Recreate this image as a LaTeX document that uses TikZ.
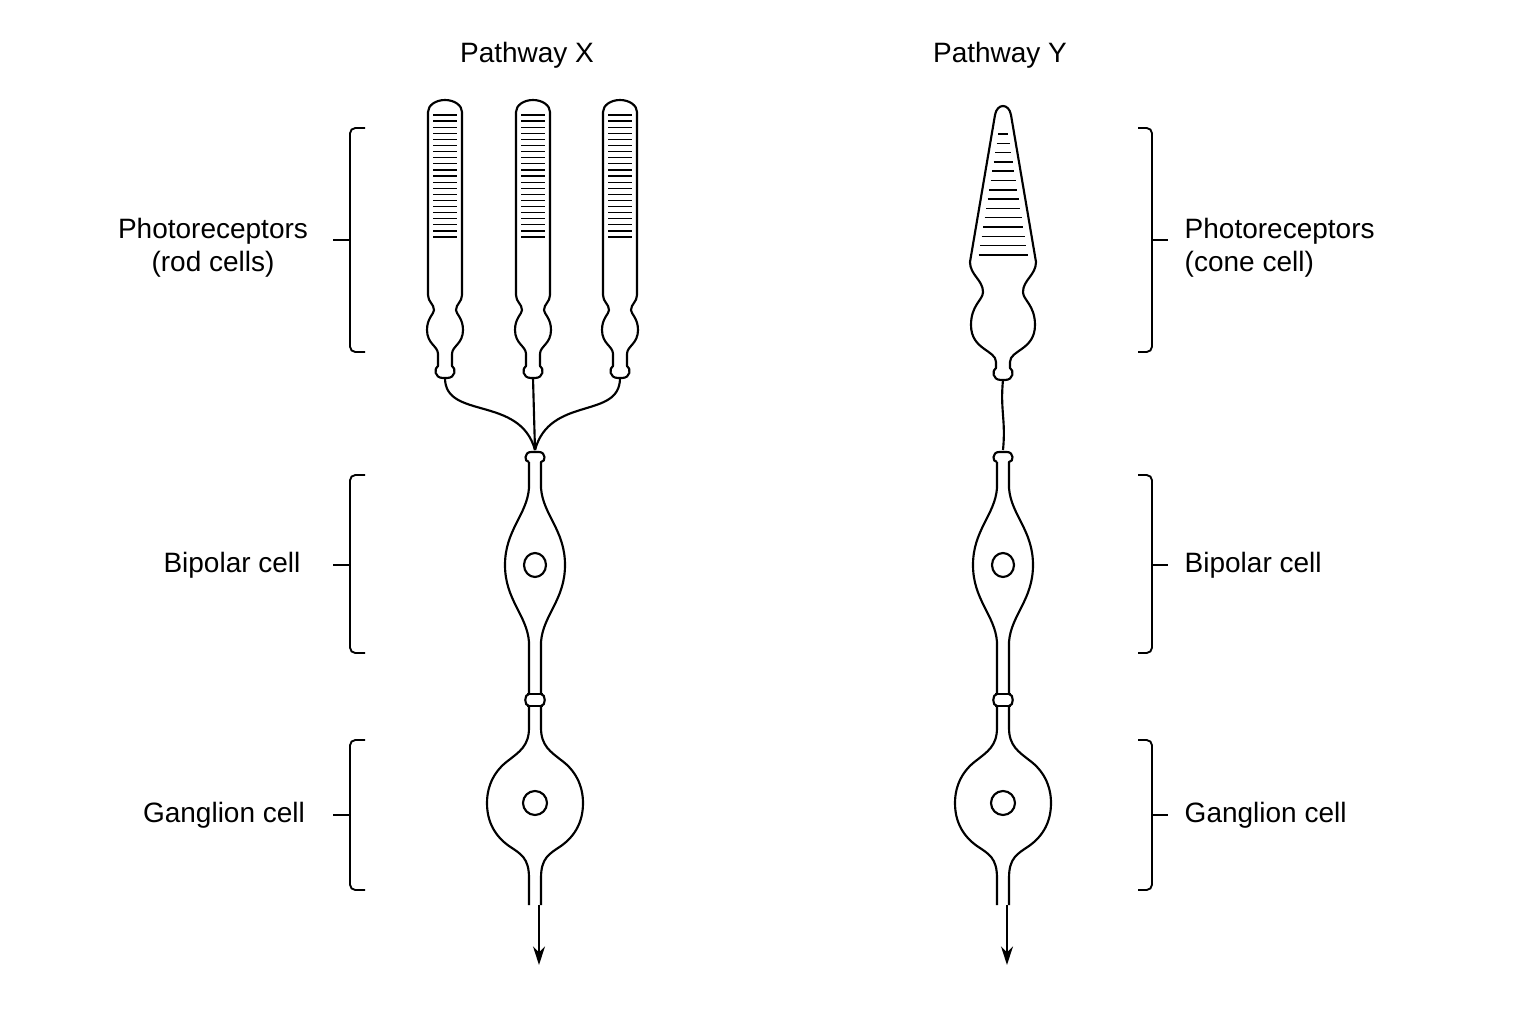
\documentclass[tikz,border=0pt]{standalone}
\usepackage{fontspec}
\setmainfont{Liberation Sans}
\usetikzlibrary{arrows.meta}
\newcommand\rodshape{%
 \draw[cell] (-17,295) -- (-17,112) arc[start angle=180,end angle=0,x radius=17,y radius=-12] -- (17,295)
  .. controls (17,302) and (11,304) .. (11,310) .. controls (11,314) and (18,318) .. (18,330)
  .. controls (18,344) and (7,346) .. (7,354) -- (7,366) .. controls (11,368) and (11,378) .. (2,378)
  -- (-2,378) .. controls (-11,378) and (-11,368) .. (-7,366) -- (-7,354)
  .. controls (-7,346) and (-18,344) .. (-18,330) .. controls (-18,318) and (-11,314) .. (-11,310)
  .. controls (-11,304) and (-17,302) .. (-17,295) -- cycle;
 \foreach \k in {0,...,20} {\draw[stripe] (-12,115+\k*6.1) -- (12,115+\k*6.1);}
}
\newcommand\lowercell{%
 \draw[cell] (-6,462) .. controls (-11,462) and (-11,452) .. (-4,452) -- (4,452) .. controls (11,452) and (11,462) .. (6,462)
  -- (6,488) .. controls (8,515) and (30,530) .. (30,565) .. controls (30,600) and (8,615) .. (6,642)
  -- (6,694) .. controls (11,694) and (11,706) .. (6,706) -- (6,728)
  .. controls (6,746) and (16,752) .. (26,760) .. controls (40,770) and (48,785) .. (48,803)
  .. controls (48,822) and (40,836) .. (26,846) .. controls (14,854) and (6,858) .. (6,878) -- (6,905);
 \draw[cell] (-6,462) -- (-6,488) .. controls (-8,515) and (-30,530) .. (-30,565) .. controls (-30,600) and (-8,615) .. (-6,642)
  -- (-6,694) .. controls (-11,694) and (-11,706) .. (-6,706) -- (-6,728)
  .. controls (-6,746) and (-16,752) .. (-26,760) .. controls (-40,770) and (-48,785) .. (-48,803)
  .. controls (-48,822) and (-40,836) .. (-26,846) .. controls (-14,854) and (-6,858) .. (-6,878) -- (-6,905);
 \draw[cell] (-8,694) -- (8,694) (-8,706) -- (8,706);
 \draw[cell] (0,565) ellipse[x radius=11,y radius=12];
 \draw[cell] (0,803) circle[radius=12];
 \coordinate (arS) at (4,905); \coordinate (arE) at (4,965);
 \draw[-{Stealth[length=14pt,width=9pt]},line width=1.4pt] (arS) -- (arE);
}
\begin{document}
\begin{tikzpicture}[x=0.75pt,y=-0.75pt,
 cell/.style={line width=1.6pt,line join=round},
 stripe/.style={line width=0.9pt},
 brk/.style={line width=1.4pt,rounded corners=4pt},
 lab/.style={font=\fontsize{21}{25}\selectfont,align=center}]
\useasboundingbox (0,0) rectangle (1536,1024);
\fill[white] (0,0) rectangle (1536,1024);
\node[lab] (tx) at (527,55) {Pathway X};
\node[lab] (ty) at (1000,55) {Pathway Y};
\begin{scope}[shift={(445,0)}]\rodshape\end{scope}
\begin{scope}[shift={(533,0)}]\rodshape\end{scope}
\begin{scope}[shift={(620,0)}]\rodshape\end{scope}
\coordinate (r1) at (445,378); \coordinate (r2) at (533,378); \coordinate (r3) at (620,378);
\coordinate (jx) at (535,450);
\draw[cell] (r1) .. controls (445,420) and (520,395) .. (jx);
\draw[cell] (r2) -- (jx);
\draw[cell] (r3) .. controls (620,420) and (550,395) .. (jx);
\begin{scope}[shift={(535,0)}]\lowercell\end{scope}
\begin{scope}[shift={(1003,0)}]
 \draw[cell] (-8,115) .. controls (-6,103) and (6,103) .. (8,115) -- (33,262)
  .. controls (33,275) and (20,280) .. (20,292) .. controls (20,300) and (32,305) .. (32,325)
  .. controls (32,350) and (7,350) .. (7,362) -- (7,368) .. controls (11,370) and (11,380) .. (2,380)
  -- (-2,380) .. controls (-11,380) and (-11,370) .. (-7,368) -- (-7,362)
  .. controls (-7,350) and (-32,350) .. (-32,325) .. controls (-32,305) and (-20,300) .. (-20,292)
  .. controls (-20,280) and (-33,275) .. (-33,262) -- cycle;
 \foreach \k in {0,...,13} {\pgfmathsetmacro\w{5+\k*1.5}\draw[stripe,line width=1.1pt] (-\w,134+\k*9.3) -- (\w,134+\k*9.3);}
 \coordinate (cb) at (0,380); \coordinate (cj) at (0,450);
 \draw[cell] (cb) .. controls (-3,410) and (3,420) .. (cj);
 \lowercell
\end{scope}
\foreach \a/\b/\m in {128/352/240,475/653/565,740/890/815}{
 \draw[brk] (365,\a) -- (350,\a) -- (350,\b) -- (365,\b);
 \draw[line width=1.4pt] (350,\m) -- (333,\m);
 \draw[brk] (1138,\a) -- (1152,\a) -- (1152,\b) -- (1138,\b);
 \draw[line width=1.4pt] (1152,\m) -- (1168,\m);
}
\node[lab] (lp) at (213,248) {Photoreceptors\\(rod cells)};
\node[lab] (lb) at (232,565) {Bipolar cell};
\node[lab] (lg) at (224,815) {Ganglion cell};
\node[lab,align=left,anchor=west] (rp) at (1180,248) {Photoreceptors\\(cone cell)};
\node[lab,anchor=west] (rb) at (1180,565) {Bipolar cell};
\node[lab,anchor=west] (rg) at (1180,815) {Ganglion cell};
\end{tikzpicture}
\end{document}
